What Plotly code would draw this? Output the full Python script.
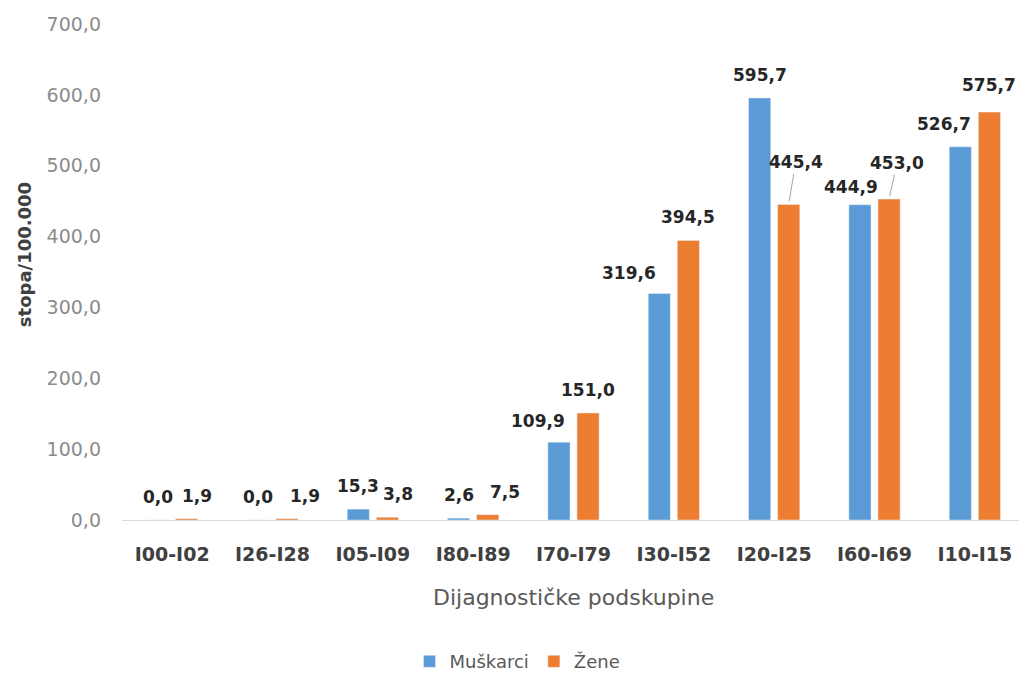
import plotly.graph_objects as go

categories = ["I00-I02", "I26-I28", "I05-I09", "I80-I89", "I70-I79",
              "I30-I52", "I20-I25", "I60-I69", "I10-I15"]
muskarci = [0.0, 0.0, 15.3, 2.6, 109.9, 319.6, 595.7, 444.9, 526.7]
zene = [1.9, 1.9, 3.8, 7.5, 151.0, 394.5, 445.4, 453.0, 575.7]

BLUE = "#5B9BD5"
ORANGE = "#ED7D31"
FONT = "DejaVu Sans"

# Excel moved some labels sideways / up; (dx, dy) in pixels
nudge = {
    ("Žene", "I00-I02"): (10, 0),
    ("Žene", "I26-I28"): (18, 0),
    ("Žene", "I05-I09"): (11, 0),
    ("Žene", "I80-I89"): (17, 0),
    ("Muškarci", "I70-I79"): (-21, 2),
    ("Muškarci", "I30-I52"): (-30, 2),
    ("Muškarci", "I60-I69"): (-9, 5),
    ("Muškarci", "I10-I15"): (-16, 0),
    ("Žene", "I10-I15"): (0, -4),
}
# labels with leader lines: text offset from the bar top
leader = {
    ("Žene", "I20-I25"): (7, -42),
    ("Žene", "I60-I69"): (8, -36),
}

fig = go.Figure()
fig.add_trace(go.Bar(x=categories, y=muskarci, name="Muškarci", marker_color=BLUE))
fig.add_trace(go.Bar(x=categories, y=zene, name="Žene", marker_color=ORANGE))

annotations = []
for name, values, off in (("Muškarci", muskarci, -14.5), ("Žene", zene, 14.5)):
    for cat, v in zip(categories, values):
        txt = f"{v:.1f}".replace(".", ",")
        key = (name, cat)
        font = dict(family=FONT, size=17, color="#262626", weight="bold")
        if key in leader:
            ax, ay = leader[key]
            annotations.append(dict(
                x=cat, y=v, xref="x", yref="y", xshift=off, text=txt,
                showarrow=True, arrowhead=0, arrowwidth=1, arrowcolor="#A6A6A6",
                ax=ax, ay=ay, standoff=3, font=font,
            ))
        else:
            dx, dy = nudge.get(key, (0, 0))
            annotations.append(dict(
                x=cat, y=v, xref="x", yref="y", xshift=off + dx, yshift=23 - dy,
                yanchor="middle", text=txt, showarrow=False, font=font,
            ))

annotations.append(dict(
    text="stopa/100.000", textangle=-90, xref="paper", yref="paper",
    x=-0.1085, y=0.534, xanchor="center", yanchor="middle", showarrow=False,
    font=dict(family=FONT, size=18, color="#404040", weight="bold"),
))
annotations.append(dict(
    text="Dijagnostičke podskupine", xref="paper", yref="paper",
    x=0.5, y=-0.157, xanchor="center", yanchor="middle", showarrow=False,
    font=dict(family=FONT, size=22, color="#595959"),
))

# page body keeps an 8px margin, so the figure is 8px smaller on each side
fig.update_layout(
    width=1019,
    height=667,
    barmode="group",
    bargap=0.42,
    bargroupgap=0.24,
    separators=", ",
    plot_bgcolor="white",
    paper_bgcolor="white",
    margin=dict(l=114, r=2, t=16, b=155),
    annotations=annotations,
    legend=dict(
        orientation="h", xref="container", yref="container",
        x=0.5, xanchor="center", y=0.02, yanchor="middle",
        font=dict(family=FONT, size=18, color="#595959"),
    ),
    xaxis=dict(
        showline=True, linecolor="#D9D9D9", linewidth=1,
        showgrid=False, ticks="", ticklabelstandoff=17,
        tickfont=dict(family=FONT, size=19, color="#404040", weight="bold"),
    ),
    yaxis=dict(
        range=[0, 700], dtick=100, tickformat=".1f",
        showgrid=False, zeroline=False, showline=False,
        ticklabelstandoff=20,
        tickfont=dict(family=FONT, size=19, color="#8C8C8C"),
    ),
)

fig.write_html("out.html")
